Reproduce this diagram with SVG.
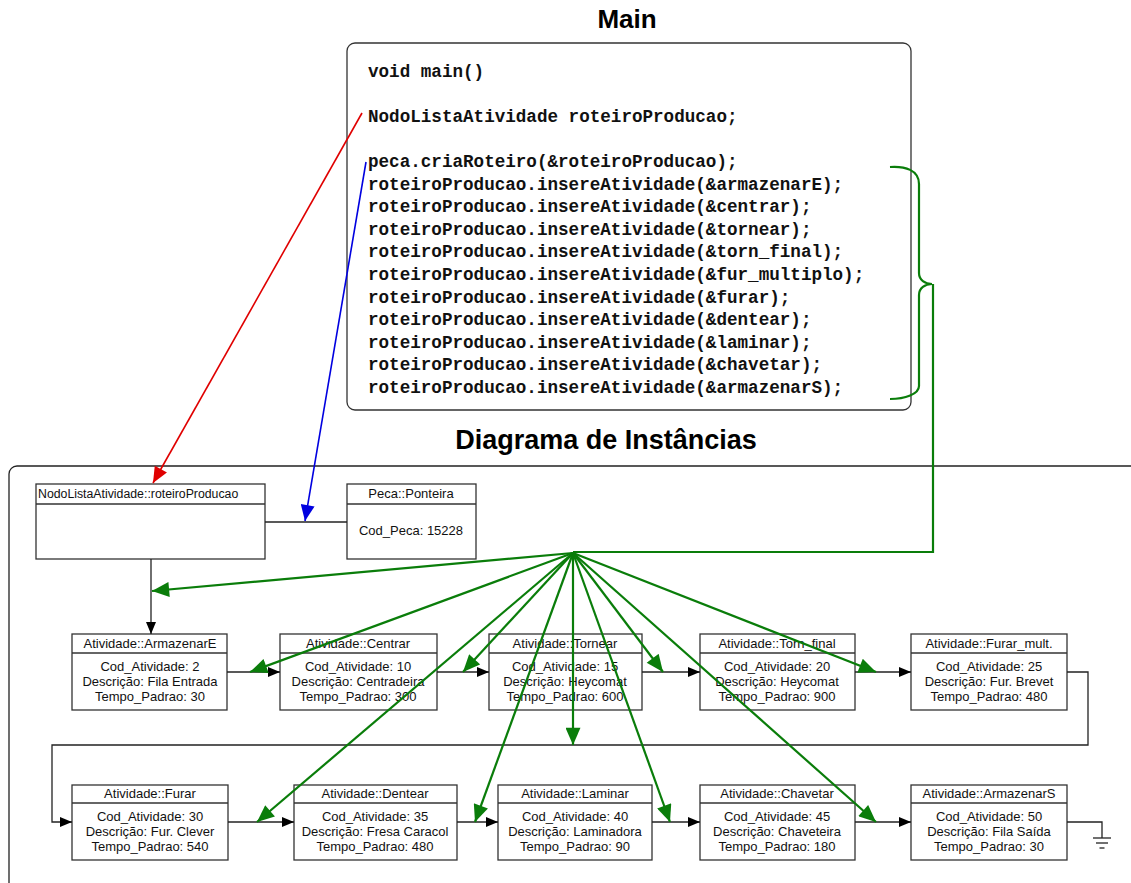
<svg xmlns="http://www.w3.org/2000/svg" width="1131" height="883" viewBox="0 0 1131 883">
  <style>
    .title { font-family: "Liberation Sans", Arial, sans-serif; font-weight: bold; font-size: 26px; fill: #000; text-anchor: middle; }
    .code { font-family: "Liberation Mono", "Courier New", monospace; font-weight: bold; font-size: 17.6px; fill: #111; }
    .box { fill: #fff; stroke: #333; stroke-width: 1.3; }
    .sep { stroke: #333; stroke-width: 1.3; fill: none; }
    .lbl { font-family: "Liberation Sans", Arial, sans-serif; font-size: 13px; fill: #111; text-anchor: middle; }
    .conn { stroke: #222; stroke-width: 1.3; fill: none; }
    .green { stroke: #0a7d0a; stroke-width: 2.2; fill: none; }
  </style>
  <defs>
    <marker id="blk" viewBox="0 0 12 10" refX="12" refY="5" markerWidth="13" markerHeight="10" markerUnits="userSpaceOnUse" orient="auto">
      <path d="M0,0 L12,5 L0,10 z" fill="#000"/>
    </marker>
    <marker id="grn" viewBox="0 0 16 14" refX="16" refY="7" markerWidth="18" markerHeight="15" markerUnits="userSpaceOnUse" orient="auto">
      <path d="M0,0 L16,7 L0,14 z" fill="#0a7d0a"/>
    </marker>
    <marker id="red" viewBox="0 0 16 14" refX="16" refY="7" markerWidth="17" markerHeight="14" markerUnits="userSpaceOnUse" orient="auto">
      <path d="M0,0 L16,7 L0,14 z" fill="#e00000"/>
    </marker>
    <marker id="blu" viewBox="0 0 16 14" refX="16" refY="7" markerWidth="17" markerHeight="14" markerUnits="userSpaceOnUse" orient="auto">
      <path d="M0,0 L16,7 L0,14 z" fill="#0000e0"/>
    </marker>
  </defs>

  <rect width="1131" height="883" fill="#fff"/>

  <!-- main() source listing -->
  <g id="main">
    <text class="title" x="627" y="28">Main</text>
    <rect class="box" x="347" y="43" width="564" height="367" rx="8"/>
    <text class="code" x="368" y="77">void main()</text>
    <text class="code" x="368" y="122">NodoListaAtividade roteiroProducao;</text>
    <text class="code" x="368" y="167">peca.criaRoteiro(&amp;roteiroProducao);</text>
    <text class="code" x="368" y="189.6">roteiroProducao.insereAtividade(&amp;armazenarE);</text>
    <text class="code" x="368" y="212.2">roteiroProducao.insereAtividade(&amp;centrar);</text>
    <text class="code" x="368" y="234.8">roteiroProducao.insereAtividade(&amp;tornear);</text>
    <text class="code" x="368" y="257.4">roteiroProducao.insereAtividade(&amp;torn_final);</text>
    <text class="code" x="368" y="280">roteiroProducao.insereAtividade(&amp;fur_multiplo);</text>
    <text class="code" x="368" y="302.6">roteiroProducao.insereAtividade(&amp;furar);</text>
    <text class="code" x="368" y="325.2">roteiroProducao.insereAtividade(&amp;dentear);</text>
    <text class="code" x="368" y="347.8">roteiroProducao.insereAtividade(&amp;laminar);</text>
    <text class="code" x="368" y="370.4">roteiroProducao.insereAtividade(&amp;chavetar);</text>
    <text class="code" x="368" y="393">roteiroProducao.insereAtividade(&amp;armazenarS);</text>
  </g>

  <!-- instance diagram frame -->
  <g id="frame">
    <text class="title" x="606" y="449" style="font-size:27px">Diagrama de Instâncias</text>
    <rect x="9" y="466" width="1200" height="500" rx="8" fill="none" stroke="#222" stroke-width="1.3"/>
  </g>

  <g id="nodoLista">
    <rect class="box" x="36" y="484" width="229" height="75"/>
    <line class="sep" x1="36" y1="504" x2="265" y2="504"/>
    <text class="lbl" x="38" y="498" style="text-anchor:start;font-size:12.3px">NodoListaAtividade::roteiroProducao</text>
  </g>

  <g id="peca">
    <rect class="box" x="347" y="484" width="129" height="75"/>
    <line class="sep" x1="347" y1="504" x2="476" y2="504"/>
    <text class="lbl" x="411" y="498">Peca::Ponteira</text>
    <text class="lbl" x="411" y="535">Cod_Peca: 15228</text>
  </g>

  <g id="armazenarE">
    <rect class="box" x="72" y="634" width="155" height="76"/>
    <line class="sep" x1="72" y1="653" x2="227" y2="653"/>
    <text class="lbl" x="150" y="648">Atividade::ArmazenarE</text>
    <text class="lbl" x="150" y="671">Cod_Atividade: 2</text>
    <text class="lbl" x="150" y="686">Descrição: Fila Entrada</text>
    <text class="lbl" x="150" y="701">Tempo_Padrao: 30</text>
  </g>

  <g id="centrar">
    <rect class="box" x="280" y="634" width="157" height="76"/>
    <line class="sep" x1="280" y1="653" x2="437" y2="653"/>
    <text class="lbl" x="358" y="648">Atividade::Centrar</text>
    <text class="lbl" x="358" y="671">Cod_Atividade: 10</text>
    <text class="lbl" x="358" y="686">Descrição: Centradeira</text>
    <text class="lbl" x="358" y="701">Tempo_Padrao: 300</text>
  </g>

  <g id="tornear">
    <rect class="box" x="489" y="634" width="153" height="76"/>
    <line class="sep" x1="489" y1="653" x2="642" y2="653"/>
    <text class="lbl" x="565" y="648">Atividade::Tornear</text>
    <text class="lbl" x="565" y="671">Cod_Atividade: 15</text>
    <text class="lbl" x="565" y="686">Descrição: Heycomat</text>
    <text class="lbl" x="565" y="701">Tempo_Padrao: 600</text>
  </g>

  <g id="tornFinal">
    <rect class="box" x="700" y="634" width="155" height="76"/>
    <line class="sep" x1="700" y1="653" x2="855" y2="653"/>
    <text class="lbl" x="777" y="648">Atividade::Torn_final</text>
    <text class="lbl" x="777" y="671">Cod_Atividade: 20</text>
    <text class="lbl" x="777" y="686">Descrição: Heycomat</text>
    <text class="lbl" x="777" y="701">Tempo_Padrao: 900</text>
  </g>

  <g id="furarMult">
    <rect class="box" x="911" y="634" width="156" height="76"/>
    <line class="sep" x1="911" y1="653" x2="1067" y2="653"/>
    <text class="lbl" x="989" y="648">Atividade::Furar_mult.</text>
    <text class="lbl" x="989" y="671">Cod_Atividade: 25</text>
    <text class="lbl" x="989" y="686">Descrição: Fur. Brevet</text>
    <text class="lbl" x="989" y="701">Tempo_Padrao: 480</text>
  </g>

  <g id="furar">
    <rect class="box" x="72" y="785" width="156" height="75"/>
    <line class="sep" x1="72" y1="803" x2="228" y2="803"/>
    <text class="lbl" x="150" y="798">Atividade::Furar</text>
    <text class="lbl" x="150" y="821">Cod_Atividade: 30</text>
    <text class="lbl" x="150" y="836">Descrição: Fur. Clever</text>
    <text class="lbl" x="150" y="851">Tempo_Padrao: 540</text>
  </g>

  <g id="dentear">
    <rect class="box" x="294" y="785" width="163" height="75"/>
    <line class="sep" x1="294" y1="803" x2="457" y2="803"/>
    <text class="lbl" x="375" y="798">Atividade::Dentear</text>
    <text class="lbl" x="375" y="821">Cod_Atividade: 35</text>
    <text class="lbl" x="375" y="836">Descrição: Fresa Caracol</text>
    <text class="lbl" x="375" y="851">Tempo_Padrao: 480</text>
  </g>

  <g id="laminar">
    <rect class="box" x="498" y="785" width="154" height="75"/>
    <line class="sep" x1="498" y1="803" x2="652" y2="803"/>
    <text class="lbl" x="575" y="798">Atividade::Laminar</text>
    <text class="lbl" x="575" y="821">Cod_Atividade: 40</text>
    <text class="lbl" x="575" y="836">Descrição: Laminadora</text>
    <text class="lbl" x="575" y="851">Tempo_Padrao: 90</text>
  </g>

  <g id="chavetar">
    <rect class="box" x="700" y="785" width="155" height="75"/>
    <line class="sep" x1="700" y1="803" x2="855" y2="803"/>
    <text class="lbl" x="777" y="798">Atividade::Chavetar</text>
    <text class="lbl" x="777" y="821">Cod_Atividade: 45</text>
    <text class="lbl" x="777" y="836">Descrição: Chaveteira</text>
    <text class="lbl" x="777" y="851">Tempo_Padrao: 180</text>
  </g>

  <g id="armazenarS">
    <rect class="box" x="911" y="785" width="156" height="75"/>
    <line class="sep" x1="911" y1="803" x2="1067" y2="803"/>
    <text class="lbl" x="989" y="798">Atividade::ArmazenarS</text>
    <text class="lbl" x="989" y="821">Cod_Atividade: 50</text>
    <text class="lbl" x="989" y="836">Descrição: Fila Saída</text>
    <text class="lbl" x="989" y="851">Tempo_Padrao: 30</text>
  </g>

  <g id="connectors">
    <!-- list / part link -->
    <line class="conn" x1="265" y1="522" x2="347" y2="522"/>
    <!-- activity chain -->
    <line class="conn" x1="151" y1="559" x2="151" y2="634" marker-end="url(#blk)"/>
    <line class="conn" x1="227" y1="672" x2="280" y2="672" marker-end="url(#blk)"/>
    <line class="conn" x1="437" y1="672" x2="489" y2="672" marker-end="url(#blk)"/>
    <line class="conn" x1="642" y1="672" x2="700" y2="672" marker-end="url(#blk)"/>
    <line class="conn" x1="855" y1="672" x2="911" y2="672" marker-end="url(#blk)"/>
    <polyline class="conn" points="1067,672 1088,672 1088,745 52,745 52,822 72,822" marker-end="url(#blk)"/>
    <line class="conn" x1="228" y1="822" x2="294" y2="822" marker-end="url(#blk)"/>
    <line class="conn" x1="457" y1="822" x2="498" y2="822" marker-end="url(#blk)"/>
    <line class="conn" x1="652" y1="822" x2="700" y2="822" marker-end="url(#blk)"/>
    <line class="conn" x1="855" y1="822" x2="911" y2="822" marker-end="url(#blk)"/>
    <!-- end of list: ground -->
    <polyline class="conn" points="1067,822 1102,822 1102,838"/>
    <line class="conn" x1="1093" y1="838" x2="1111" y2="838"/>
    <line class="conn" x1="1096" y1="843" x2="1108" y2="843"/>
    <line class="conn" x1="1099.5" y1="848" x2="1104.5" y2="848"/>

    <!-- declaration and criaRoteiro links -->
    <line x1="362" y1="113" x2="153" y2="483" stroke="#e00000" stroke-width="1.6" marker-end="url(#red)"/>
    <line x1="366" y1="162" x2="305" y2="521" stroke="#0000e0" stroke-width="1.6" marker-end="url(#blu)"/>

    <!-- insereAtividade brace -->
    <path class="green" d="M890,167 C905,166 919,170 919,184 L919,273 C919,280 925,284 932,284 C925,284 919,288 919,295 L919,386 C919,394 905,399 890,399"/>
    <polyline class="green" points="933,284 933,552 573,552"/>

    <!-- one arrow per inserted activity -->
    <g class="green">
      <line x1="573" y1="553" x2="152" y2="591" marker-end="url(#grn)"/>
      <line x1="573" y1="553" x2="250" y2="672" marker-end="url(#grn)"/>
      <line x1="573" y1="553" x2="463" y2="672" marker-end="url(#grn)"/>
      <line x1="573" y1="553" x2="663" y2="672" marker-end="url(#grn)"/>
      <line x1="573" y1="553" x2="876" y2="672" marker-end="url(#grn)"/>
      <line x1="573" y1="553" x2="573" y2="745" marker-end="url(#grn)"/>
      <line x1="573" y1="553" x2="257" y2="822" marker-end="url(#grn)"/>
      <line x1="573" y1="553" x2="475" y2="822" marker-end="url(#grn)"/>
      <line x1="573" y1="553" x2="670" y2="822" marker-end="url(#grn)"/>
      <line x1="573" y1="553" x2="876" y2="822" marker-end="url(#grn)"/>
    </g>
  </g>
</svg>
